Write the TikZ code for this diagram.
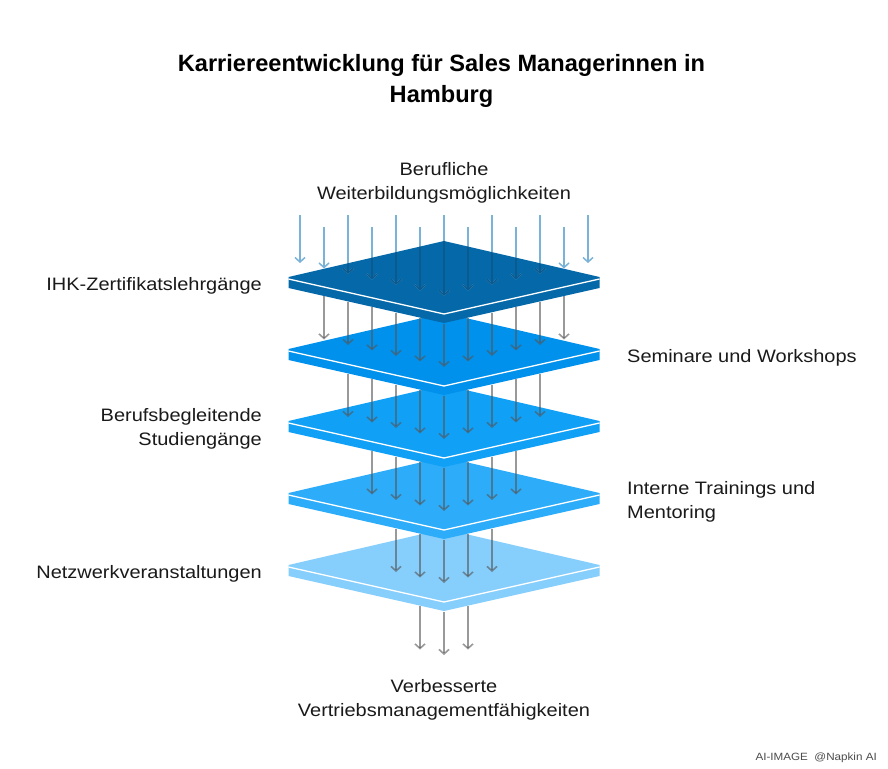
\documentclass[tikz,border=0pt]{standalone}
\usepackage{fontspec}
\setmainfont{Liberation Sans}
\newfontfamily\lblfont[FakeStretch=1.11]{Liberation Sans}
\usetikzlibrary{arrows.meta}
\definecolor{cA}{HTML}{0568A8}
\definecolor{cB}{HTML}{0091EC}
\definecolor{cC}{HTML}{10A0F6}
\definecolor{cD}{HTML}{2DADF9}
\definecolor{cE}{HTML}{86CEFC}
\definecolor{txt}{HTML}{1A1A1A}
\definecolor{barrow}{HTML}{7AB3D6}
\definecolor{barrowdark}{HTML}{0A5A90}
\definecolor{garrow}{HTML}{555555}
\tikzset{
  lbl/.style={font=\lblfont\fontsize{18}{24}\selectfont, text=txt, inner sep=0pt},
  ttl/.style={font=\fontsize{23.6}{31}\selectfont\bfseries, text=black, inner sep=0pt, align=center},
  bluearrow/.style={draw=barrow, line width=1.5pt, -{Straight Barb[length=4.5pt,width=10pt]}},
  bluearrowdark/.style={draw=barrowdark, line width=1.5pt, -{Straight Barb[length=4.5pt,width=10pt]}},
  grayarrow/.style={draw=garrow, draw opacity=0.6, line width=1.6pt, -{Straight Barb[length=4.5pt,width=10pt]}},
  edgeline/.style={draw=white, line width=1.3pt}
}
\begin{document}
\begin{tikzpicture}[x=1pt,y=-1pt]
\useasboundingbox (0,0) rectangle (888,768);
\fill[white] (0,0) rectangle (888,768);

% layers, from bottom to top
\foreach \i/\c in {4/cE,3/cD,2/cC,1/cB,0/cA}{
  \begin{scope}[shift={(0,72*\i)}]
    \coordinate (layer\i) at (444,282);
    \fill[\c] (288.5,277) -- (444,241) -- (599.5,277) -- (599.5,288) -- (444,323) -- (288.5,288) -- cycle;
    \draw[edgeline] (288.5,279) -- (444,314) -- (599.5,279);
  \end{scope}
}

% incoming arrows (blue)
\foreach \k in {-6,...,6}{
  \pgfmathsetmacro\xx{444+24*\k}
  \pgfmathsetmacro\ys{215+12*mod(abs(\k),2)}
  \pgfmathsetmacro\ye{296-5.5*abs(\k)}
  \coordinate (bs\k) at (\xx,\ys);
  \coordinate (be\k) at (\xx,\ye);
  \draw[bluearrow] (bs\k) -- (be\k);
}
% the same arrows where they pass over the top layer
\begin{scope}
  \clip (288.5,277) -- (444,241) -- (599.5,277) -- (444,312) -- cycle;
  \foreach \k in {-6,...,6}{
    \draw[bluearrowdark] (bs\k) -- (be\k);
  }
\end{scope}

% arrows between layers (gray)
\foreach \i [evaluate=\i as \n using int(5-\i)] in {0,...,4}{
  \foreach \k in {-\n,...,\n}{
    \pgfmathsetmacro\xx{444+24*\k}
    \pgfmathsetmacro\ys{323.5+72*\i-5.48*abs(\k)}
    \pgfmathsetmacro\ye{367+72*\i-5.5*abs(\k)}
    \coordinate (gs\i\k) at (\xx,\ys);
    \coordinate (ge\i\k) at (\xx,\ye);
    \draw[grayarrow] (gs\i\k) -- (ge\i\k);
  }
}

% texts
\node[ttl] (title) at (441.5,81) {Karriereentwicklung für Sales Managerinnen in\\Hamburg};
\node[lbl, align=center] (input) at (444,182.5) {Berufliche\\Weiterbildungsmöglichkeiten};
\node[lbl, anchor=east] (l1) at (262,285.5) {IHK-Zertifikatslehrgänge};
\node[lbl, anchor=west] (l2) at (627,357.5) {Seminare und Workshops};
\node[lbl, anchor=east, align=right] (l3) at (262,428.5) {Berufsbegleitende\\Studiengänge};
\node[lbl, anchor=west, align=left] (l4) at (627,501.5) {Interne Trainings und\\Mentoring};
\node[lbl, anchor=east] (l5) at (262,573.5) {Netzwerkveranstaltungen};
\node[lbl, align=center] (output) at (444,699.5) {Verbesserte\\Vertriebsmanagementfähigkeiten};
\node[font=\lblfont\fontsize{10.5}{12}\selectfont, text=black!70, inner sep=0pt, anchor=east] (credit) at (877,758) {AI-IMAGE\ \ @Napkin AI};
\end{tikzpicture}
\end{document}
